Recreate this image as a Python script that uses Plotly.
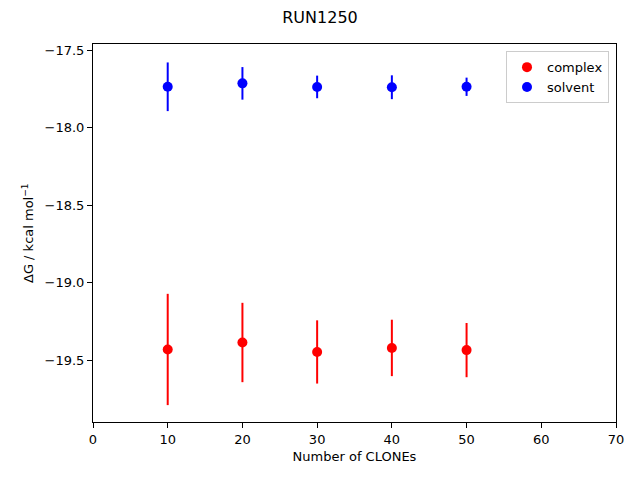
import plotly.graph_objects as go

clones = [10, 20, 30, 40, 50]
complex_dg = [-19.432, -19.387, -19.448, -19.422, -19.436]
complex_err = [0.359, 0.256, 0.204, 0.182, 0.175]
solvent_dg = [-17.737, -17.715, -17.738, -17.740, -17.737]
solvent_err = [0.157, 0.105, 0.073, 0.077, 0.059]

font = "DejaVu Sans"
fig = go.Figure()
fig.add_trace(go.Scatter(
    x=clones, y=complex_dg, mode="markers", name="complex",
    marker=dict(color="red", size=10),
    error_y=dict(type="data", array=complex_err, color="red", thickness=2, width=0),
))
fig.add_trace(go.Scatter(
    x=clones, y=solvent_dg, mode="markers", name="solvent",
    marker=dict(color="blue", size=10),
    error_y=dict(type="data", array=solvent_err, color="blue", thickness=2, width=0),
))

axis_common = dict(
    showline=True, linecolor="black", linewidth=1, mirror=True,
    ticks="outside", ticklen=5, tickwidth=1, tickcolor="black",
    showgrid=False, zeroline=False,
    tickfont=dict(family=font, size=13, color="black"),
)
fig.update_layout(
    width=640, height=480,
    margin=dict(l=85, r=32, t=36, b=66),
    paper_bgcolor="white", plot_bgcolor="white",
    title=dict(text="RUN1250", x=(320 - 8) / 640, xanchor="center", y=1 - 9 / 480, yanchor="middle",
               font=dict(family=font, size=16, color="black")),
    font=dict(family=font, color="black"),
    xaxis=dict(range=[0, 70], dtick=10,
               title=dict(text="Number of CLONEs", font=dict(family=font, size=13), standoff=6),
               **axis_common),
    yaxis=dict(range=[-19.9, -17.461], tick0=-17.5, dtick=0.5, tickformat=".1f",
               **axis_common),
    legend=dict(x=0.9866, y=0.981, xanchor="right", yanchor="top",
                bgcolor="white", bordercolor="#cccccc", borderwidth=1,
                font=dict(family=font, size=13)),
    showlegend=True,
)
fig.add_annotation(
    text="ΔG / kcal mol<sup>−1</sup>", textangle=-90,
    xref="paper", yref="paper", x=-0.1243, y=0.5,
    xanchor="center", yanchor="middle", showarrow=False,
    font=dict(family=font, size=13, color="black"),
)
fig.write_html("out.html")
